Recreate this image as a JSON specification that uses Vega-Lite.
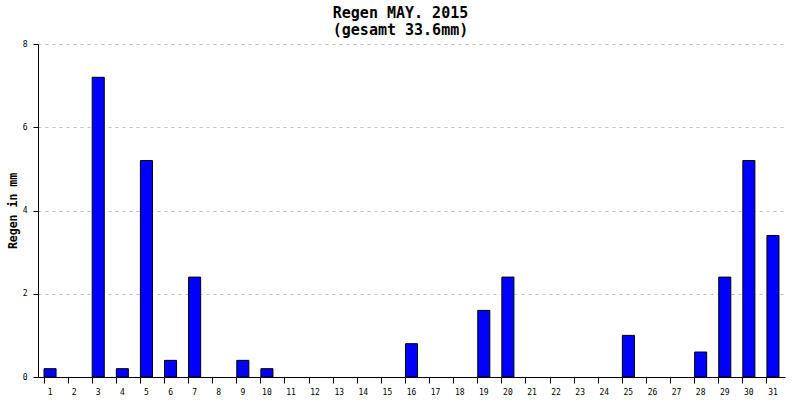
{
  "$schema": "https://vega.github.io/schema/vega-lite/v6.json",
  "autosize": "none",
  "width": 747,
  "height": 333,
  "padding": {"left": 38, "top": 44, "right": 15, "bottom": 23},
  "background": "white",
  "title": {
    "text": ["Regen MAY. 2015", "(gesamt 33.6mm)"],
    "font": "DejaVu Sans Mono",
    "fontSize": 15,
    "fontWeight": "bold",
    "color": "black",
    "lineHeight": 17,
    "anchor": "middle",
    "dx": -11,
    "offset": 2
  },
  "data": {
    "values": [
      {"tag": "1", "mm": 0.2}, {"tag": "2", "mm": 0}, {"tag": "3", "mm": 7.2},
      {"tag": "4", "mm": 0.2}, {"tag": "5", "mm": 5.2}, {"tag": "6", "mm": 0.4},
      {"tag": "7", "mm": 2.4}, {"tag": "8", "mm": 0}, {"tag": "9", "mm": 0.4},
      {"tag": "10", "mm": 0.2}, {"tag": "11", "mm": 0}, {"tag": "12", "mm": 0},
      {"tag": "13", "mm": 0}, {"tag": "14", "mm": 0}, {"tag": "15", "mm": 0},
      {"tag": "16", "mm": 0.8}, {"tag": "17", "mm": 0}, {"tag": "18", "mm": 0},
      {"tag": "19", "mm": 1.6}, {"tag": "20", "mm": 2.4}, {"tag": "21", "mm": 0},
      {"tag": "22", "mm": 0}, {"tag": "23", "mm": 0}, {"tag": "24", "mm": 0},
      {"tag": "25", "mm": 1.0}, {"tag": "26", "mm": 0}, {"tag": "27", "mm": 0},
      {"tag": "28", "mm": 0.6}, {"tag": "29", "mm": 2.4}, {"tag": "30", "mm": 5.2},
      {"tag": "31", "mm": 3.4}
    ]
  },
  "transform": [{"filter": "datum.mm > 0"}],
  "mark": {"type": "bar", "color": "#0000ff", "stroke": "black", "strokeWidth": 1},
  "encoding": {
    "x": {
      "field": "tag",
      "type": "ordinal",
      "sort": null,
      "scale": {
        "domain": ["1","2","3","4","5","6","7","8","9","10","11","12","13","14","15","16","17","18","19","20","21","22","23","24","25","26","27","28","29","30","31"],
        "paddingInner": 0.5,
        "paddingOuter": 0.25
      },
      "axis": {
        "title": null,
        "labelAngle": 0,
        "labelFont": "DejaVu Sans Mono",
        "labelFontSize": 8,
        "labelColor": "black",
        "labelPadding": 5,
        "bandPosition": 0,
        "tickColor": "black",
        "tickSize": 6,
        "domainColor": "black",
        "grid": false
      }
    },
    "y": {
      "field": "mm",
      "type": "quantitative",
      "scale": {"domain": [0, 8], "nice": false},
      "axis": {
        "title": "Regen in mm",
        "titleFont": "DejaVu Sans Mono",
        "titleFontSize": 11.5,
        "titleFontWeight": "bold",
        "titleColor": "black",
        "titlePadding": 4,
        "values": [0, 2, 4, 6, 8],
        "labelFont": "DejaVu Sans Mono",
        "labelFontSize": 8,
        "labelColor": "black",
        "labelPadding": 6,
        "tickColor": "black",
        "tickSize": 5,
        "domainColor": "black",
        "grid": true,
        "gridColor": "#c0c0c0",
        "gridDash": [3, 4]
      }
    }
  },
  "config": {"view": {"stroke": null}}
}
